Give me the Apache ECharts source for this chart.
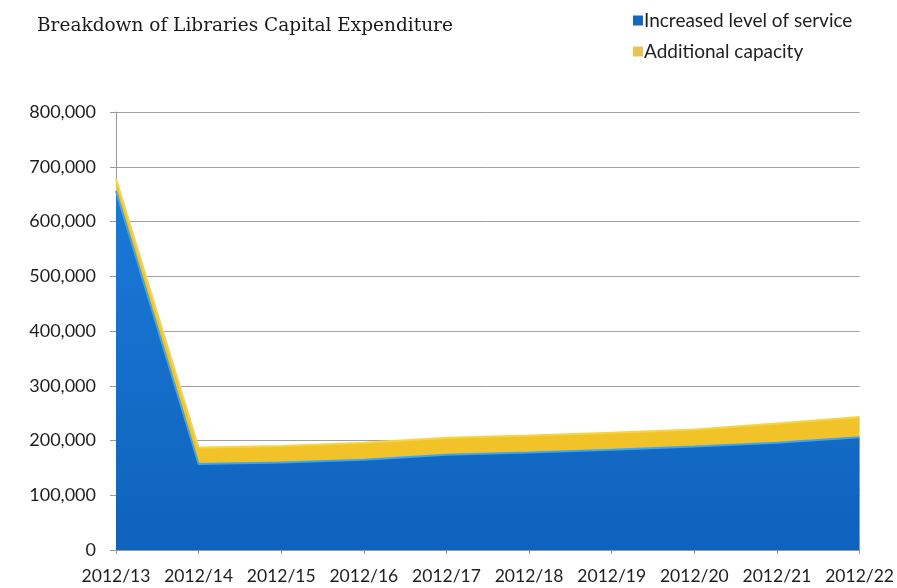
<!DOCTYPE html>
<html>
<head>
<meta charset="utf-8">
<script src="https://cdn.jsdelivr.net/npm/echarts@6/dist/echarts.min.js"></script>
<style>
  html, body { margin: 0; padding: 0; background: #ffffff; }
  #chart { width: 897px; height: 588px; }
</style>
</head>
<body>
<div id="chart"></div>
<script>
// Financial years on the category axis
const years = ['2012/13', '2012/14', '2012/15', '2012/16', '2012/17', '2012/18', '2012/19', '2012/20', '2012/21', '2012/22'];
// Capital expenditure by driver (stacked)
const increasedService = [656000, 157000, 160000, 165000, 174000, 178000, 183000, 189000, 196000, 206000];
const additionalCapacity = [22000, 30000, 30000, 31000, 31000, 31000, 31000, 31000, 35000, 37000];
// Value axis ticks
const yMax = 800000;
const yStep = 100000;

const chart = echarts.init(document.getElementById('chart'));
chart.setOption({
  animation: false,
  backgroundColor: '#ffffff',
  title: {
    text: 'Breakdown of Libraries Capital Expenditure',
    left: 32, top: 12,
    textStyle: { fontFamily: 'DejaVu Serif', fontSize: 18.5, fontWeight: 'normal', color: '#1a1a1a' }
  },
  legend: {
    orient: 'vertical',
    left: 628, top: 6,
    itemWidth: 10, itemHeight: 10, itemGap: 12,
    icon: 'rect',
    textStyle: { fontFamily: 'Lato', fontSize: 19, color: '#1e1e1e', padding: [0, 0, 0, -4] },
    data: ['Increased level of service', 'Additional capacity']
  },
  grid: { left: 116, right: 37, top: 112, bottom: 38 },
  xAxis: {
    type: 'category',
    data: years,
    boundaryGap: false,
    axisLine: { lineStyle: { color: '#999' } },
    axisTick: { show: true, alignWithLabel: true, length: 4, lineStyle: { color: '#999' } },
    axisLabel: { fontFamily: 'Lato', fontSize: 17.5, color: '#1e1e1e', margin: 17, interval: 0, hideOverlap: false }
  },
  yAxis: {
    type: 'value',
    min: 0, max: yMax, interval: yStep,
    axisLine: { show: true, lineStyle: { color: '#999' } },
    axisTick: { show: true, length: 6, lineStyle: { color: '#999' } },
    splitLine: { lineStyle: { color: '#a0a0a0', width: 1 } },
    axisLabel: {
      fontFamily: 'Lato', fontSize: 18, color: '#1e1e1e', margin: 20,
      formatter: v => v.toLocaleString('en-US')
    }
  },
  series: [
    {
      name: 'Increased level of service',
      type: 'line',
      stack: 'total',
      data: increasedService,
      symbol: 'none',
      lineStyle: { color: '#3ea6f0', width: 2 },
      itemStyle: { color: '#1466c0' },
      areaStyle: {
        opacity: 1,
        color: new echarts.graphic.LinearGradient(0, 0, 0, 1, [
          { offset: 0, color: '#1a7ad6' },
          { offset: 1, color: '#0f62bd' }
        ])
      },
      z: 3
    },
    {
      name: 'Additional capacity',
      type: 'line',
      stack: 'total',
      data: additionalCapacity,
      symbol: 'none',
      lineStyle: { color: '#f4d54a', width: 2 },
      itemStyle: { color: '#e9c25a' },
      areaStyle: { opacity: 1, color: '#f2c328' },
      z: 2
    }
  ]
});
</script>
</body>
</html>
